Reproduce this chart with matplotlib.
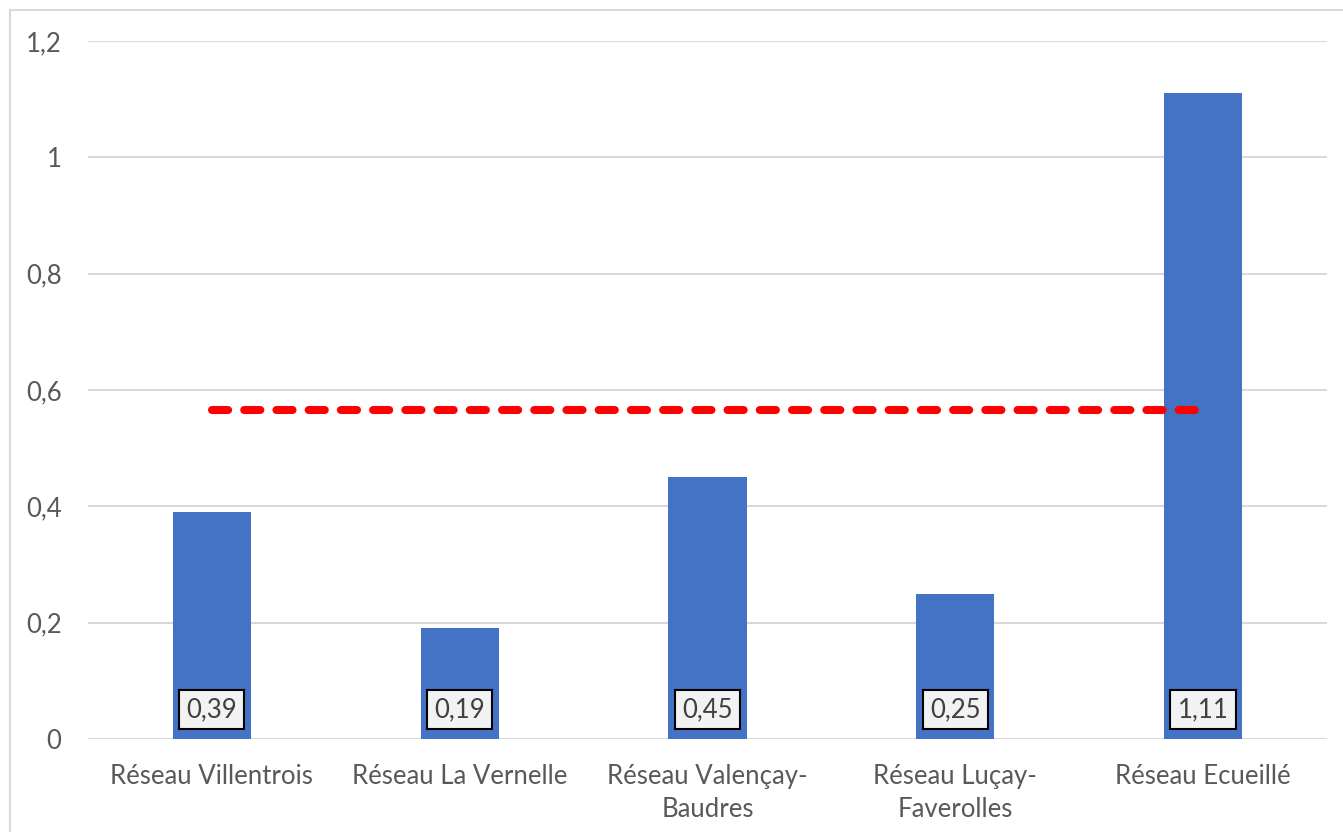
import matplotlib.pyplot as plt
from matplotlib.patches import Rectangle

# -----------------------------------------------------------------------------
# data

categories = ['Réseau Villentrois', 'Réseau La Vernelle',
              'Réseau Valençay-\nBaudres', 'Réseau Luçay-\nFaverolles',
              'Réseau Ecueillé']
values = [0.39, 0.19, 0.45, 0.25, 1.11]
value_labels = ['0,39', '0,19', '0,45', '0,25', '1,11']
ref_level = 0.566   # red dashed reference line
yticks = [0, 0.2, 0.4, 0.6, 0.8, 1.0, 1.2]
ytick_labels = ['0', '0,2', '0,4', '0,6', '0,8', '1', '1,2']

# -----------------------------------------------------------------------------

plt.rcParams['font.family'] = ['Lato', 'DejaVu Sans']
TXT = '#595959'
FS = 18.5

W, H = 1343, 832
fig = plt.figure(figsize=(W / 100, H / 100), dpi=100)

# light grey chart border (runs off the right and bottom edges)
fig.patches.append(Rectangle((10 / W, -0.1), 1.2, (H - 10) / H + 0.1,
                             transform=fig.transFigure, fill=False,
                             edgecolor='#d9d9d9', linewidth=1.5))

ax = fig.add_axes([88 / W, (H - 739) / H, (1327 - 88) / W, (739 - 41) / H])

x = list(range(len(categories)))
ax.bar(x, values, width=0.315, color='#4472C4', zorder=2)

line, = ax.plot([x[0], x[-1]], [ref_level, ref_level], color='#ff0000',
                linewidth=5.8, solid_capstyle='round', dash_capstyle='round',
                zorder=3)
line.set_dashes((2.0, 2.0))

for xi, lab in zip(x, value_labels):
    ax.text(xi, 0.051, lab, ha='center', va='center', fontsize=FS,
            color='#404040', zorder=4,
            bbox=dict(boxstyle='square,pad=0.28', facecolor='#f2f2f2',
                      edgecolor='black', linewidth=1.5))

ax.set_xlim(-0.5, len(categories) - 0.5)
ax.set_ylim(0, 1.2)
ax.set_yticks(yticks)
ax.set_yticklabels(ytick_labels)
ax.set_xticks(x)
ax.set_xticklabels(categories, linespacing=1.4)
ax.tick_params(axis='both', length=0, labelsize=FS, labelcolor=TXT)
ax.tick_params(axis='y', pad=19)
ax.tick_params(axis='x', pad=18)

ax.grid(axis='y', color='#d9d9d9', linewidth=1.5, zorder=0)
ax.set_axisbelow(True)
for s in ax.spines.values():
    s.set_visible(False)

fig.savefig('out.png', dpi=100)
